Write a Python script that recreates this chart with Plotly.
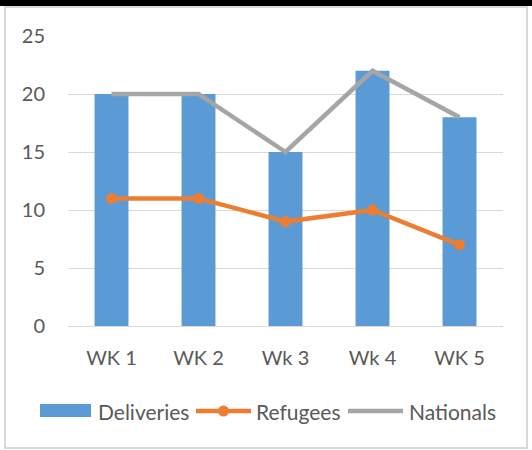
import plotly.graph_objects as go

weeks = ["WK 1", "WK 2", "Wk 3", "Wk 4", "WK 5"]
deliveries = [20, 20, 15, 22, 18]
refugees = [11, 11, 9, 10, 7]
nationals = [20, 20, 15, 22, 18]

FONT = "Lato, 'Open Sans', sans-serif"
TEXT = "#595959"
BLUE, ORANGE, GRAY = "#5B9BD5", "#ED7D31", "#A5A5A5"

fig = go.Figure()
fig.add_trace(go.Bar(
    x=weeks, y=deliveries, name="Deliveries",
    marker={"color": BLUE, "line": {"width": 0}},
))
fig.add_trace(go.Scatter(
    x=weeks, y=refugees, name="Refugees",
    mode="lines+markers",
    line={"color": ORANGE, "width": 4.5},
    marker={"size": 11, "color": ORANGE},
))
fig.add_trace(go.Scatter(
    x=weeks, y=nationals, name="Nationals",
    mode="lines",
    line={"color": GRAY, "width": 4.5},
))

# paper 座標: x 0->68px, 1->503px / y 0->326px, 1->36px
def px_x(p):
    return (p - 68) / 435


def px_y(p):
    return (326 - p) / 290


# 外枠と上部の黒帯
fig.add_shape(type="rect", xref="paper", yref="paper",
              x0=px_x(5), x1=px_x(527), y0=px_y(448), y1=px_y(7),
              line={"color": "#D9D9D9", "width": 2}, layer="below")
fig.add_shape(type="rect", xref="paper", yref="paper",
              x0=px_x(-10), x1=px_x(545), y0=px_y(6), y1=px_y(-10),
              line={"width": 0}, fillcolor="#000000")

# 凡例 (手描き)
ly = 411
fig.add_shape(type="rect", xref="paper", yref="paper",
              x0=px_x(40), x1=px_x(91), y0=px_y(417), y1=px_y(404),
              line={"width": 0}, fillcolor=BLUE)
fig.add_shape(type="line", xref="paper", yref="paper",
              x0=px_x(196), x1=px_x(251), y0=px_y(ly), y1=px_y(ly),
              line={"color": ORANGE, "width": 4.5})
fig.add_shape(type="circle", xref="paper", yref="paper",
              x0=px_x(218), x1=px_x(229), y0=px_y(ly + 5.5), y1=px_y(ly - 5.5),
              line={"width": 0}, fillcolor=ORANGE)
fig.add_shape(type="line", xref="paper", yref="paper",
              x0=px_x(348), x1=px_x(403), y0=px_y(ly), y1=px_y(ly),
              line={"color": GRAY, "width": 4.5})
for label, left in [("Deliveries", 96), ("Refugees", 254), ("Nationals", 407)]:
    fig.add_annotation(text=label, xref="paper", yref="paper",
                       x=px_x(left), y=px_y(ly), xanchor="left", yanchor="middle",
                       showarrow=False, font={"size": 21, "color": TEXT})

fig.update_layout(
    width=532, height=450,
    margin={"l": 68, "r": 29, "t": 36, "b": 124},
    paper_bgcolor="white", plot_bgcolor="white",
    font={"family": FONT, "size": 20, "color": TEXT},
    bargap=0.61,
    showlegend=False,
    xaxis={"showgrid": False, "showline": True, "linecolor": "#D9D9D9",
           "linewidth": 1, "ticks": "", "ticklabelstandoff": 14},
    yaxis={"range": [0, 25], "dtick": 5, "showgrid": True,
           "gridcolor": "#D9D9D9", "gridwidth": 1, "zeroline": False,
           "showline": False, "ticks": "", "ticklabelstandoff": 22},
)

fig.write_html("out.html", config={"displayModeBar": False},
               post_script="document.body.style.margin='0';")
